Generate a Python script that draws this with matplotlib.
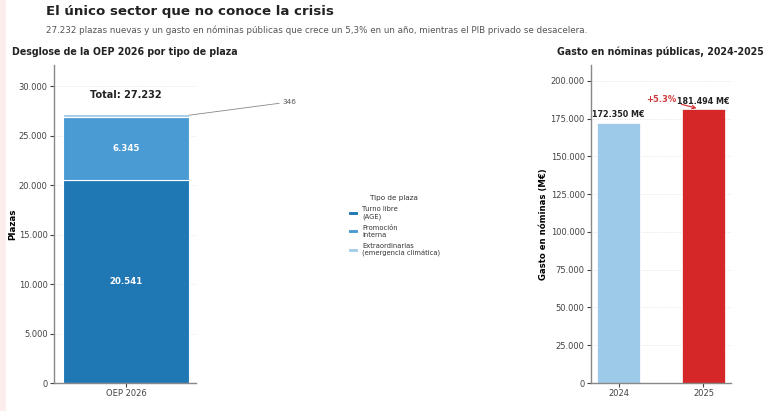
import matplotlib
matplotlib.use("Agg")
import matplotlib.pyplot as plt
from matplotlib.patches import Rectangle
from matplotlib.ticker import FuncFormatter

# ---- data ----
oep_category = ["OEP 2026"]
seg_names = ["Turno libre\n(AGE)", "Promoción\ninterna", "Extraordinarias\n(emergencia climática)"]
seg_values = [20541, 6345, 346]
seg_colors = ["#1f77b4", "#4a9bd3", "#a6cee8"]
oep_total = 27232

years = ["2024", "2025"]
gasto = [172350, 181494]
gasto_colors = ["#9ecae9", "#d62728"]
growth_label = "+5.3%"

def fmt_thousands(v, pos=None):
    return f"{int(round(v)):,}".replace(",", ".")

plt.rcParams["font.family"] = ["DejaVu Sans"]

fig = plt.figure(figsize=(7.68, 4.11), dpi=100)
fig.patch.set_facecolor("white")
fig.patches.append(Rectangle((0, 0), 6 / 768, 1, transform=fig.transFigure,
                             facecolor="#fdeeee", edgecolor="none", zorder=-5))

spine_col = "#888888"
tick_col = "#444444"

def style_ax(ax):
    for s in ["top", "right"]:
        ax.spines[s].set_visible(False)
    for s in ["left", "bottom"]:
        ax.spines[s].set_color(spine_col)
        ax.spines[s].set_linewidth(1.0)
    ax.tick_params(colors=tick_col, labelsize=6, length=3, width=0.8, pad=1.5)
    ax.yaxis.grid(True, linestyle=":", color="#dddddd", linewidth=0.6)
    ax.set_axisbelow(True)
    ax.yaxis.set_major_formatter(FuncFormatter(fmt_thousands))

# ---- left axes ----
ax1 = fig.add_axes([54 / 768, 1 - 383 / 411, 142 / 768, 318 / 411])
style_ax(ax1)
bottom = 0
for name, val, col in zip(seg_names, seg_values, seg_colors):
    ax1.bar(oep_category, [val], bottom=bottom, width=0.5, color=col,
            edgecolor="white", linewidth=0.8, label=name)
    if val > 1000:
        ax1.text(0, bottom + val / 2, fmt_thousands(val), ha="center", va="center",
                 color="white", fontsize=6.2, fontweight="bold")
    bottom += val
ax1.annotate(fmt_thousands(seg_values[2]), xy=(0.25, oep_total - seg_values[2] / 2),
             xytext=(67, 9.5), textcoords="offset points", ha="left", va="center",
             fontsize=5.3, color="#555555",
             arrowprops=dict(arrowstyle="-", color="#888888", lw=0.6,
                             shrinkA=0, shrinkB=0))
ax1.text(0, oep_total * 1.068, f"Total: {fmt_thousands(oep_total)}", ha="center",
         va="center", fontsize=7, fontweight="bold", color="#222222")
ax1.set_xlim(-0.286, 0.278)
ax1.set_ylim(0, oep_total * 1.18)
ax1.set_yticks(range(0, 30001, 5000))
ax1.set_ylabel("Plazas", fontsize=6.3, fontweight="bold", labelpad=1)

# ---- right axes ----
ax2 = fig.add_axes([591 / 768, 1 - 383 / 411, 140 / 768, 318 / 411])
style_ax(ax2)
ax2.bar(years, gasto, width=0.5, color=gasto_colors, edgecolor="white", linewidth=0.5)
for i, v in enumerate(gasto):
    ax2.text(i, v + max(gasto) * 0.012, fmt_thousands(v) + " M€", ha="center",
             va="bottom", fontsize=5.8, fontweight="bold", color="#222222")
ax2.annotate(growth_label, xy=(0.95, gasto[1]), xytext=(0.5, 188000),
             ha="center", va="center", fontsize=6, fontweight="bold", color="#d03a3a",
             arrowprops=dict(arrowstyle="->", color="#d62728", lw=0.8))
ax2.set_ylim(0, max(gasto) * 1.16)
ax2.set_yticks(range(0, 200001, 25000))
ax2.set_ylabel("Gasto en nóminas (M€)", fontsize=6.1, fontweight="bold", labelpad=1.5)

# ---- legend ----
handles, labels = ax1.get_legend_handles_labels()
leg = fig.legend(handles, labels, title="Tipo de plaza", loc="upper left",
                 bbox_to_anchor=(342 / 768, 1 - 189 / 411), frameon=False,
                 fontsize=4.9, title_fontsize=5.2, handlelength=1.5, handleheight=0.5,
                 labelspacing=0.75, handletextpad=0.6)
for t in leg.get_texts():
    t.set_color("#333333")
leg.get_title().set_color("#333333")

# ---- titles ----
fig.text(46 / 768, 1 - 12 / 411, "El único sector que no conoce la crisis",
         fontsize=9.6, fontweight="bold", color="#222222", ha="left", va="center")
fig.text(46 / 768, 1 - 30 / 411,
         "27.232 plazas nuevas y un gasto en nóminas públicas que crece un 5,3% en un año, mientras el PIB privado se desacelera.",
         fontsize=6.3, color="#555555", ha="left", va="center")
fig.text(12 / 768, 1 - 52 / 411, "Desglose de la OEP 2026 por tipo de plaza",
         fontsize=6.85, fontweight="bold", color="#222222", ha="left", va="center")
fig.text(660 / 768, 1 - 52 / 411, "Gasto en nóminas públicas, 2024-2025",
         fontsize=6.85, fontweight="bold", color="#222222", ha="center", va="center")

fig.savefig("out.png", dpi=100)
